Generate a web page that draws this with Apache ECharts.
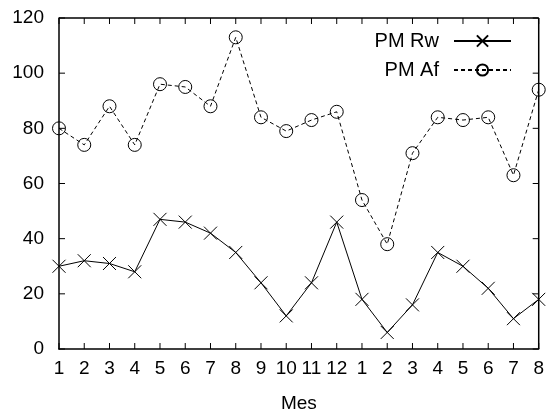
<!DOCTYPE html>
<html>
<head>
<meta charset="utf-8">
<script src="https://cdn.jsdelivr.net/npm/echarts@6/dist/echarts.min.js"></script>
<style>
  html, body { margin: 0; padding: 0; background: #fff; }
  #chart { width: 547px; height: 418px; background: #fff; }
</style>
</head>
<body>
<div id="chart"></div>
<script>
// meses (eje x)
const meses = ['1', '2', '3', '4', '5', '6', '7', '8', '9', '10', '11', '12',
               '1', '2', '3', '4', '5', '6', '7', '8']
const pmRw = [30, 32, 31, 28, 47, 46, 42, 35, 24, 12, 24, 46, 18, 6, 16, 35, 30, 22, 11, 18]
const pmAf = [80, 74, 88, 74, 96, 95, 88, 113, 84, 79, 83, 86, 54, 38, 71, 84, 83, 84, 63, 94]
const yTicks = [0, 20, 40, 60, 80, 100, 120]

const font = 'Liberation Sans, Arial, Helvetica, sans-serif'
const crossPath = 'path://M0,0L10,10M10,0L0,10'
const tickLen = 6
const yMin = yTicks[0]
const yMax = yTicks[yTicks.length - 1]
const last = meses.length - 1

const chart = echarts.init(document.getElementById('chart'))

const lineEl = (x1, y1, x2, y2, w) => ({
  type: 'line',
  shape: { x1, y1, x2, y2 },
  style: { stroke: '#000', lineWidth: w }
})

// marco y marcas hacia dentro (estilo gnuplot) dibujados con las escalas del eje
const xTickData = meses.map((m, i) => [i, yMin])
const yTickData = yTicks.map(v => [0, v])

const option = {
  animation: false,
  grid: {
    left: 59,
    right: 6,
    top: 18,
    bottom: 64
  },
  legend: {
    orient: 'vertical',
    align: 'right',
    right: 30,
    top: 26,
    itemWidth: 57,
    itemHeight: 14,
    itemGap: 9,
    textStyle: {
      fontFamily: font,
      fontSize: 20,
      color: '#000',
      padding: [0, 10, 0, 0]
    },
    data: ['PM Rw', 'PM Af']
  },
  xAxis: {
    type: 'category',
    data: meses,
    boundaryGap: false,
    name: 'Mes',
    nameLocation: 'middle',
    nameGap: 45,
    nameTextStyle: { fontFamily: font, fontSize: 19, color: '#000' },
    axisLine: { show: true, onZero: false, lineStyle: { color: '#000', width: 1.5 } },
    axisTick: { show: false },
    axisLabel: {
      interval: 0,
      margin: 10,
      fontFamily: font,
      fontSize: 19,
      color: '#000'
    },
    splitLine: { show: false }
  },
  yAxis: {
    type: 'value',
    min: yMin,
    max: yMax,
    interval: 20,
    axisLine: { show: true, lineStyle: { color: '#000', width: 1.5 } },
    axisTick: { show: false },
    axisLabel: {
      margin: 15,
      fontFamily: font,
      fontSize: 19,
      color: '#000'
    },
    splitLine: { show: false }
  },
  series: [
    {
      name: 'PM Rw',
      type: 'line',
      data: pmRw,
      symbol: crossPath,
      symbolSize: 13,
      lineStyle: { color: '#000', width: 1 },
      itemStyle: { color: 'transparent', borderColor: '#000', borderWidth: 1 }
    },
    {
      name: 'PM Af',
      type: 'line',
      data: pmAf,
      symbol: 'circle',
      symbolSize: 13,
      lineStyle: { color: '#000', width: 1, type: [4, 3] },
      itemStyle: { color: 'transparent', borderColor: '#000', borderWidth: 1 }
    },
    {
      // marcas del eje x, abajo y arriba
      type: 'custom',
      silent: true,
      z: 3,
      data: xTickData,
      renderItem: (params, api) => {
        const x = api.coord([api.value(0), yMin])[0]
        const yb = api.coord([0, yMin])[1]
        const yt = api.coord([0, yMax])[1]
        return {
          type: 'group',
          children: [
            lineEl(x, yb, x, yb - tickLen, 1),
            lineEl(x, yt, x, yt + tickLen, 1)
          ]
        }
      }
    },
    {
      // marcas del eje y, izquierda y derecha
      type: 'custom',
      silent: true,
      z: 3,
      data: yTickData,
      renderItem: (params, api) => {
        const y = api.coord([0, api.value(1)])[1]
        const xl = api.coord([0, yMin])[0]
        const xr = api.coord([last, yMin])[0]
        return {
          type: 'group',
          children: [
            lineEl(xl, y, xl + tickLen, y, 1),
            lineEl(xr, y, xr - tickLen, y, 1)
          ]
        }
      }
    },
    {
      // marco: lados superior y derecho
      type: 'custom',
      silent: true,
      z: 3,
      data: [[last, yMax]],
      renderItem: (params, api) => {
        const tl = api.coord([0, yMax])
        const tr = api.coord([last, yMax])
        const br = api.coord([last, yMin])
        return {
          type: 'group',
          children: [
            lineEl(tl[0], tl[1], tr[0], tr[1], 1.5),
            lineEl(tr[0], tr[1], br[0], br[1], 1.5)
          ]
        }
      }
    }
  ]
}

chart.setOption(option)
</script>
</body>
</html>
